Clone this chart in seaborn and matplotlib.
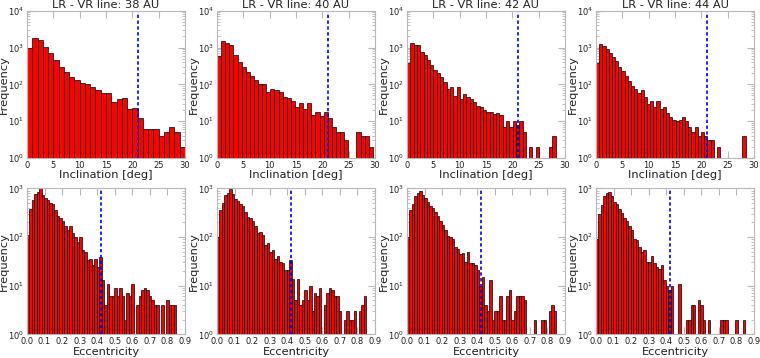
"""LR - VR line histograms: inclination and eccentricity, log frequency."""
import numpy as np
import pandas as pd
import matplotlib
matplotlib.use("Agg")
import matplotlib.pyplot as plt
import seaborn as sns

# bin counts, one array per panel
inc_38 = [1000, 1820, 1580, 1040, 720, 455, 300, 220, 155, 130, 107, 105, 83, 70, 57,
          57, 33, 39, 42, 22, 23, 12, 6, 6, 6, 4, 5, 7, 5, 2]
inc_40 = [600, 1480, 1350, 1150, 620, 410, 300, 220, 170, 130, 105, 100, 63, 73, 70,
          63, 46, 42, 36, 25, 31, 21, 31, 15, 18, 14, 18, 12, 7, 5, 5, 3, 0, 0, 5, 4, 4, 2]
inc_42 = [380, 1290, 1150, 1150, 760, 620, 455, 330, 245, 200, 155, 118, 73, 87, 48,
          83, 39, 55, 46, 40, 34, 26, 24, 20, 18, 18, 16, 17, 15, 7, 10, 7, 10, 8, 10,
          5, 0, 2, 0, 2, 0, 0, 0, 2, 4]
inc_44 = [380, 1230, 1100, 940, 730, 560, 440, 300, 225, 170, 125, 92, 75, 57, 70,
          45, 29, 36, 25, 35, 22, 25, 17, 13, 11, 10, 11, 13, 10, 7, 5, 7, 4, 5, 4,
          3, 3, 0, 2, 0, 0, 0, 0, 0, 0, 0, 4]

ecc_38 = [110, 370, 570, 760, 850, 1000, 720, 620, 570, 500, 475, 360, 270, 250, 210,
          165, 140, 165, 123, 100, 80, 100, 54, 48, 34, 35, 27, 35, 24, 38, 13, 4, 11,
          6, 6, 9, 6, 9, 6, 2, 7, 6, 11, 0, 4, 6, 8, 9, 8, 6, 5, 4, 4, 0, 4, 0, 5, 4, 4, 4]
ecc_40 = [98, 350, 490, 730, 810, 950, 760, 590, 560, 475, 435, 330, 260, 240, 210,
          170, 123, 128, 110, 69, 76, 50, 54, 35, 40, 30, 29, 21, 21, 34, 14, 5, 14,
          4, 5, 8, 5, 10, 3, 7, 6, 9, 0, 4, 7, 9, 8, 6, 6, 3, 0, 2, 3, 2, 2, 3, 0, 3, 4, 6]
ecc_42 = [98, 350, 475, 710, 810, 880, 740, 620, 530, 435, 390, 320, 270, 210, 175,
          140, 105, 100, 90, 63, 56, 45, 46, 31, 50, 29, 29, 26, 21, 10, 15, 4, 3, 13,
          2, 3, 3, 6, 2, 2, 6, 8, 2, 3, 6, 6, 6, 5, 0, 0, 0, 2, 0, 0, 2, 2, 0, 3, 4, 3]
ecc_44 = [92, 300, 450, 680, 790, 850, 700, 520, 480, 370, 310, 240, 210, 165, 140,
          90, 85, 63, 50, 54, 30, 31, 41, 29, 24, 22, 27, 13, 10, 8, 10, 0, 0, 11, 0,
          0, 2, 2, 4, 4, 0, 5, 4, 2, 0, 2, 0, 0, 0, 0, 2, 2, 2, 0, 0, 0, 2, 0, 0, 2]

distances = [38, 40, 42, 44]
inc_counts = [inc_38, inc_40, inc_42, inc_44]
ecc_counts = [ecc_38, ecc_40, ecc_42, ecc_44]
inc_max = [30.0, 29.6, 28.2, 28.4]   # upper edge of the last inclination bin
ecc_max = 0.85
inc_cut = 21.0
ecc_cut = 0.42

sns.set_style("ticks")
plt.rcParams["font.family"] = ["DejaVu Sans"]

fig = plt.figure(figsize=(7.6, 3.58), dpi=100)
W, H = 760.0, 358.0
lefts = [27, 217, 407, 596]
width = 158


def hist_panel(ax, counts, hi, cut, xlim, xticks, xlabel, ylim):
    edges = np.linspace(0, hi, len(counts) + 1)
    df = pd.DataFrame({"value": 0.5 * (edges[:-1] + edges[1:]),
                       "count": np.asarray(counts, dtype=float)})
    sns.histplot(data=df, x="value", weights="count", bins=list(edges), ax=ax,
                 color="#ff0000", edgecolor="black", linewidth=0.5, alpha=1.0)
    ax.set_yscale("log")
    ax.set_ylim(*ylim)
    ax.set_xlim(*xlim)
    ax.set_xticks(xticks)
    ax.axvline(cut, color="#0000ff", linestyle=(0, (2, 1.5)), linewidth=1.2)
    ax.set_xlabel(xlabel, fontsize=8.2, labelpad=0.5, color="#202020")
    ax.set_ylabel("Frequency", fontsize=8.2, color="#202020")
    ax.yaxis.set_label_coords(-0.112, 0.5)
    ax.tick_params(which="both", direction="in", top=True, right=True,
                   color="#b8b8b8", labelsize=6, labelcolor="#202020", pad=2)
    ax.tick_params(which="major", length=5, width=0.8)
    ax.tick_params(which="minor", length=2.5, width=0.6)
    for s in ax.spines.values():
        s.set_color("#b8b8b8")
        s.set_linewidth(0.8)


for i, d in enumerate(distances):
    ax = fig.add_axes([lefts[i] / W, 1 - 158 / H, width / W, 147.3 / H])
    hist_panel(ax, inc_counts[i], inc_max[i], inc_cut, (0, 30), range(0, 31, 5),
               "Inclination [deg]", (1, 1e4))
    ax.set_title(f"LR - VR line: {d} AU", fontsize=8.2, pad=2, color="#202020")

    ax = fig.add_axes([lefts[i] / W, 1 - 334.3 / H, width / W, 146 / H])
    ecc_ticks = np.arange(0, 0.91, 0.1)
    hist_panel(ax, ecc_counts[i], ecc_max, ecc_cut, (0, 0.9), ecc_ticks,
               "Eccentricity", (1, 1e3))
    ax.set_xticklabels([f"{t:.1f}" for t in ecc_ticks])

fig.savefig("out.png", dpi=100)
plt.close(fig)
